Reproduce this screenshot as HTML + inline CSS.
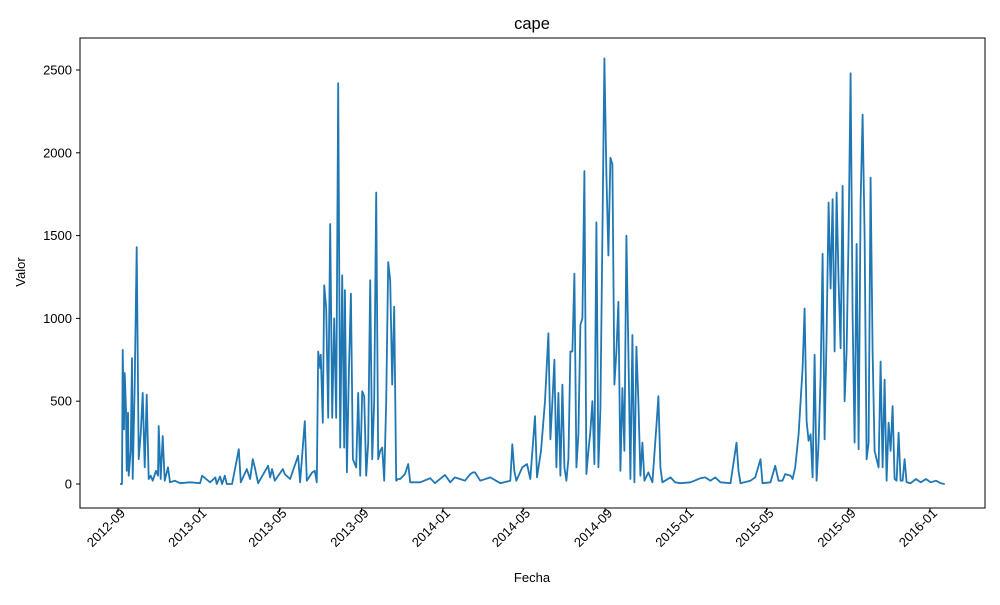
<!DOCTYPE html>
<html><head><meta charset="utf-8"><style>
body{margin:0;background:#fff;}
svg{font-family:"Liberation Sans","DejaVu Sans",sans-serif;}
</style></head><body>
<svg width="1000" height="600">
<rect x="0" y="0" width="1000" height="600" fill="#fff"/>
<text x="532" y="29" font-size="16.5" text-anchor="middle">cape</text>
<g id="axes"></g>
<path id="line" fill="none" stroke="#1f77b4" stroke-width="1.8" stroke-linejoin="round"/>
<rect x="80" y="38" width="905" height="470" fill="none" stroke="#000" stroke-width="1"/>
<text x="532" y="582" font-size="13" text-anchor="middle">Fecha</text>
<text x="0" y="0" font-size="13" text-anchor="middle" transform="translate(25,272) rotate(-90)">Valor</text>
</svg>
<script>
// days since 2012-09-01
const days=[3,6,7,9,10,12,13,15,16,19,21,22,25,28,31,34,37,40,43,46,49,52,57,60,61,64,67,70,75,78,85,93,108,123,
126,138,146,148,153,156,160,163,171,181,184,193,198,202,205,210,225,228,231,235,247,250,258,270,273,280,283,291,295,298,
300,303,304,307,309,312,315,318,321,324,327,330,333,336,339,340,343,346,349,352,357,360,363,366,369,372,375,378,381,384,387,390,393,396,399,402,405,408,411,414,417,420,423,430,435,438,453,468,475,490,498,505,520,528,532,535,543,558,573,588,591,594,597,
606,613,618,625,628,634,640,645,648,651,654,657,660,663,666,669,672,675,678,681,684,687,690,693,696,699,702,705,708,711,714,717,720,723,726,729,732,735,738,741,744,747,750,753,756,759,762,765,768,771,774,777,780,783,786,789,795,801,807,810,813,816,820,828,835,843,
858,873,880,888,895,903,918,927,930,933,948,955,963,966,978,985,990,996,1000,1008,1011,
1015,1020,1023,1026,1029,1032,1035,1038,1041,1044,1047,1050,1053,1056,1059,1062,1065,1068,1071,1074,1077,1080,1083,1086,1089,1092,1095,1098,1101,1104,1107,1110,1113,1116,1119,1122,1125,1128,1131,1134,1137,1140,1143,1146,1149,1152,1155,1158,1161,1164,1167,1170,1173,1176,1179,1182,1188,1196,1203,1211,1218,1226,1233,1239];
const values=[0,0,810,330,670,450,80,430,50,200,760,30,600,1430,150,300,550,100,540,30,50,20,80,50,350,30,290,20,100,10,20,5,10,5,
50,10,40,0,45,0,50,0,0,210,10,90,30,150,100,5,110,40,90,20,90,60,30,170,10,380,20,70,80,10,
800,700,780,370,1200,1060,400,1570,400,1000,400,2420,220,1260,220,1170,70,680,1150,150,100,550,50,560,530,50,250,1230,150,500,1760,150,200,220,20,500,1340,1230,600,1070,20,30,30,60,120,10,10,35,5,55,10,40,20,60,70,70,20,40,5,20,240,80,20,
100,120,30,410,40,200,500,910,270,500,750,100,550,50,600,100,20,150,800,800,1270,100,300,960,1000,1890,60,200,320,500,120,1580,100,450,1500,2570,1870,1380,1970,1930,600,800,1100,80,580,200,1500,800,30,900,10,830,500,50,250,20,70,10,350,530,100,10,20,40,10,5,
10,35,40,20,40,10,5,250,80,5,20,40,150,5,10,110,20,20,60,50,30,
100,300,500,700,1060,380,260,300,40,780,20,250,640,1390,270,900,1700,1180,1720,800,1760,1220,820,1800,500,800,1500,2480,1020,250,1450,210,1700,2230,1500,150,250,1850,800,200,150,100,740,100,630,20,370,200,470,30,20,310,20,20,150,10,5,30,10,30,10,20,5,0];
const yTicks=[0,500,1000,1500,2000,2500];
const xTickLabels=["2012-09","2013-01","2013-05","2013-09","2014-01","2014-05","2014-09","2015-01","2015-05","2015-09","2016-01"];
const xTickDays=[0,122,242,365,487,607,730,852,972,1095,1217];

const X=d=>118+d*(812/1217);
const Y=v=>484-v*0.1656;
const NS="http://www.w3.org/2000/svg";
const ax=document.getElementById('axes');
function mk(tag,attrs,parent){const e=document.createElementNS(NS,tag);for(const k in attrs)e.setAttribute(k,attrs[k]);parent.appendChild(e);return e;}
yTicks.forEach(v=>{
  const l=mk('line',{x1:76,x2:80,y1:Y(v),y2:Y(v),stroke:'#000'},ax);
  
  
  const t=mk('text',{x:72,y:Y(v)+4.5,'font-size':13,'text-anchor':'end'},ax);
  t.textContent=v;
  
  
});
xTickDays.forEach((d,i)=>{
  const x=X(d);
  const l=mk('line',{x1:x,x2:x,y1:508,y2:512,stroke:'#000'},ax);
  
  
  const t=mk('text',{x:0,y:0,'font-size':13,'text-anchor':'end',transform:`translate(${x+8},${514}) rotate(-45)`},ax);
  t.textContent=xTickLabels[i];
  
  
});
document.getElementById('line').setAttribute('d',days.map((d,i)=>(i?'L':'M')+X(d).toFixed(1)+' '+Y(values[i]).toFixed(1)).join(''));
</script>
</body></html>
